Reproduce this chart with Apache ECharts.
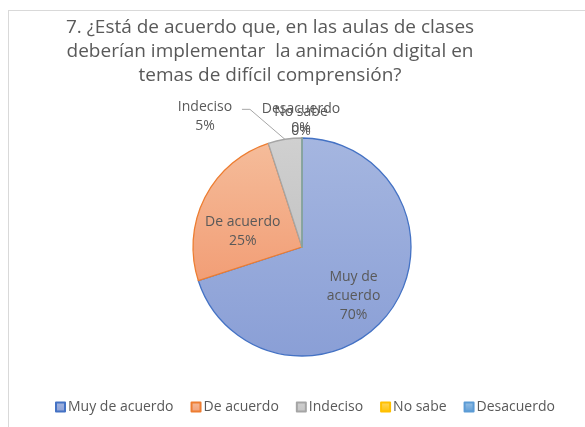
<!DOCTYPE html>
<html>
<head>
<meta charset="utf-8">
<script src="https://cdn.jsdelivr.net/npm/echarts@6/dist/echarts.min.js"></script>
<style>
  html, body { margin: 0; padding: 0; background: #fff; overflow: hidden; }
  #frame { position: absolute; left: 8px; top: 10px; width: 620px; height: 460px; border: 1px solid #d9d9d9; }
  #chart { position: absolute; left: 0; top: 0; width: 585px; height: 427px; }
</style>
</head>
<body>
<div id="frame"></div>
<div id="chart"></div>
<script>
const titleText = '7. ¿Está de acuerdo que, en las aulas de clases\ndeberían implementar  la animación digital en\ntemas de difícil comprensión?';
const categories = ['Muy de acuerdo', 'De acuerdo', 'Indeciso', 'No sabe', 'Desacuerdo'];
const labelNames = ['Muy de\nacuerdo', 'De acuerdo', 'Indeciso', 'No sabe', 'Desacuerdo'];
const values = [70, 25, 5, 0, 0];
const fillTop = ['#a5b6e0', '#f5bc9a', '#d0d0d0', '#ffd966', '#9dc3e6'];
const fillBottom = ['#8a9fd6', '#f29e76', '#c4c4c4', '#ffc000', '#5b9bd5'];
const borders = ['#4472c4', '#ed7d31', '#a5a5a5', '#ffc000', '#5b9bd5'];

const chart = echarts.init(document.getElementById('chart'));
const font = 'Open Sans';

// label placement tweaks, per slice
const labelOpts = [
  { position: 'inside', offset: [5, 15] },
  { position: 'inside', offset: [-8, 11] },
  { position: 'outside' },
  { position: 'outside' },
  { position: 'outside' }
];
const lineOpts = [
  { show: false },
  { show: false },
  { show: true, length: 20, length2: 8 },
  { show: false },
  { show: false }
];

const data = categories.map((name, i) => ({
  name: name,
  value: values[i],
  itemStyle: {
    color: new echarts.graphic.LinearGradient(0, 0, 0, 1, [
      { offset: 0, color: fillTop[i] },
      { offset: 1, color: fillBottom[i] }
    ]),
    borderColor: borders[i],
    borderWidth: 1.3
  },
  label: labelOpts[i],
  labelLine: lineOpts[i]
}));

chart.setOption({
  animation: false,
  title: {
    text: titleText,
    left: 265,
    top: 11,
    textAlign: 'center',
    textStyle: {
      fontFamily: font,
      fontSize: 19,
      fontWeight: 'normal',
      color: '#595959',
      lineHeight: 24
    }
  },
  legend: {
    data: categories,
    bottom: 8,
    left: 50,
    icon: 'rect',
    itemWidth: 9,
    itemHeight: 9,
    itemGap: 17,
    textStyle: { fontFamily: font, fontSize: 14, color: '#595959', padding: [0, 0, 0, -2] }
  },
  series: [
    {
      type: 'pie',
      center: [302, 247],
      radius: 109,
      startAngle: 90,
      clockwise: true,
      avoidLabelOverlap: false,
      data: data,
      label: {
        fontFamily: font,
        fontSize: 14,
        color: '#595959',
        lineHeight: 19,
        formatter: p => '{c|' + labelNames[p.dataIndex] + '\n' + p.percent + '%}',
        rich: {
          c: { fontFamily: font, fontSize: 14, color: '#595959', lineHeight: 19, width: 70, align: 'center' }
        }
      },
      labelLine: {
        lineStyle: { color: '#a6a6a6', width: 1 }
      },
      labelLayout: params => {
        const i = params.dataIndex;
        // Excel style leader for the small outside label: diagonal, then a short flat piece
        if (i === 2 && params.labelLinePoints) {
          const p0 = params.labelLinePoints[0];
          const p1 = [p0[0] - 35, p0[1] - 30];
          const p2 = [p1[0] - 8, p1[1]];
          return {
            x: p2[0] - 2,
            y: p2[1] - 12,
            align: 'right',
            verticalAlign: 'top',
            labelLinePoints: [p0, p1, p2]
          };
        }
        // zero slices: stacked on top of each other just above the pie
        if (values[i] === 0) {
          const r = params.rect;
          return {
            x: r.x + r.width / 2 - 1,
            y: r.y + (i === 3 ? 3 : 0),
            align: 'center',
            verticalAlign: 'bottom'
          };
        }
        return {};
      }
    }
  ]
});
</script>
</body>
</html>
